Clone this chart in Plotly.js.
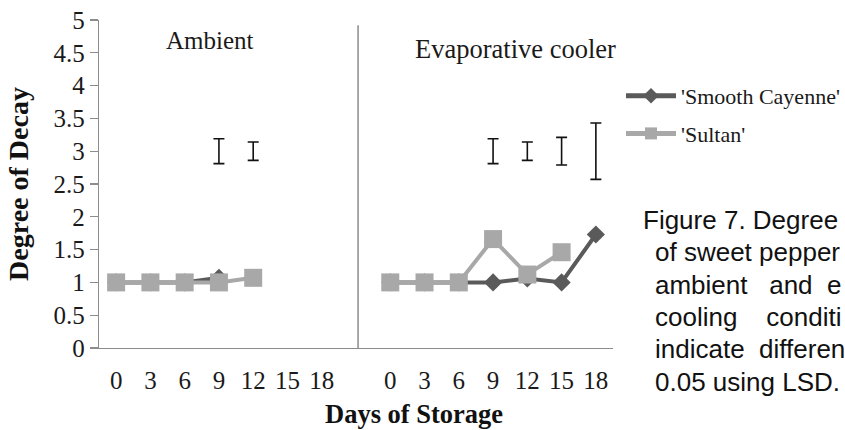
<!DOCTYPE html>
<html>
<head>
<meta charset="utf-8">
<script src="https://cdn.plot.ly/plotly-3.0.1.min.js"></script>
<style>
html, body { margin: 0; padding: 0; background: #ffffff; overflow: hidden; }
#chart { width: 845px; height: 430px; }
</style>
</head>
<body>
<div id="chart"></div>
<script>
// ---- data ----
const tickDays = [0, 3, 6, 9, 12, 15, 18];
const tickLabels = ['0', '3', '6', '9', '12', '15', '18'];

const seriesNames = ["'Smooth Cayenne'", "'Sultan'"];

// Ambient panel
const ambientCayenneDays = [0, 3, 6, 9];
const ambientCayenneDecay = [1, 1, 1, 1.07];
const ambientSultanDays = [0, 3, 6, 9, 12];
const ambientSultanDecay = [1, 1, 1, 1, 1.07];

// Evaporative cooler panel
const coolerCayenneDays = [0, 3, 6, 9, 12, 15, 18];
const coolerCayenneDecay = [1, 1, 1, 1, 1.06, 1, 1.73];
const coolerSultanDays = [0, 3, 6, 9, 12, 15];
const coolerSultanDecay = [1, 1, 1, 1.66, 1.12, 1.46];

// LSD bars (centre and half length)
const ambientLsdDays = [9, 12];
const ambientLsdCentre = [3, 3];
const ambientLsdHalf = [0.19, 0.14];
const coolerLsdDays = [9, 12, 15, 18];
const coolerLsdCentre = [3, 3, 3, 3];
const coolerLsdHalf = [0.19, 0.14, 0.21, 0.43];

const panelTitles = ['Ambient', 'Evaporative cooler'];
// caption as visible in the reference (it runs off the right edge there)
const captionLines = [
  'Figure\u00a07.\u00a0Degree',
  'of sweet pepper',
  'ambient\u00a0\u00a0 and\u00a0 e',
  'cooling\u00a0\u00a0\u00a0 conditi',
  'indicate\u00a0 differen',
  '0.05 using LSD.'
];

// ---- styles ----
const serif = 'Liberation Serif, Times New Roman, serif';
const sans = 'Liberation Sans, Arial, sans-serif';
const cayenneColor = '#5a5a5a';
const sultanColor = '#a8a8a8';
const axisColor = '#8c8c8c';
const textColor = '#1a1a1a';

function lineTrace(x, y, xa, name, color, symbol, size, show) {
  return {
    type: 'scatter', mode: 'lines+markers', x: x, y: y, xaxis: xa, yaxis: 'y',
    name: name, legendgroup: name, showlegend: show,
    line: { color: color, width: 4 },
    marker: { color: color, symbol: symbol, size: size },
    hoverinfo: 'skip'
  };
}
function lsdTrace(x, y, half, xa) {
  return {
    type: 'scatter', mode: 'markers', x: x, y: y, xaxis: xa, yaxis: 'y',
    showlegend: false, hoverinfo: 'skip',
    marker: { size: 1, color: 'rgba(0,0,0,0)' },
    error_y: { type: 'data', array: half, visible: true, color: '#111111', thickness: 1.6, width: 5.5 }
  };
}

const data = [
  lineTrace(ambientCayenneDays, ambientCayenneDecay, 'x', seriesNames[0], cayenneColor, 'diamond', 14, true),
  lineTrace(coolerCayenneDays, coolerCayenneDecay, 'x2', seriesNames[0], cayenneColor, 'diamond', 14, false),
  lineTrace(ambientSultanDays, ambientSultanDecay, 'x', seriesNames[1], sultanColor, 'square', 18, true),
  lineTrace(coolerSultanDays, coolerSultanDecay, 'x2', seriesNames[1], sultanColor, 'square', 18, false),
  lsdTrace(ambientLsdDays, ambientLsdCentre, ambientLsdHalf, 'x'),
  lsdTrace(coolerLsdDays, coolerLsdCentre, coolerLsdHalf, 'x2')
];

const xBase = {
  anchor: 'y', tickmode: 'array', tickvals: tickDays, ticktext: tickLabels,
  showgrid: false, zeroline: false, showline: true, linecolor: axisColor, linewidth: 1.3,
  ticks: 'outside', ticklen: 10, tickcolor: 'rgba(0,0,0,0)', automargin: false,
  tickfont: { family: serif, size: 25, color: textColor }, fixedrange: true
};

const annotations = [
  { text: panelTitles[0], xref: 'paper', yref: 'paper', x: 0.216, y: 0.936, xanchor: 'center', yanchor: 'middle',
    showarrow: false, font: { family: serif, size: 25, color: textColor } },
  { text: panelTitles[1], xref: 'paper', yref: 'paper', x: 0.811, y: 0.912, xanchor: 'center', yanchor: 'middle',
    showarrow: false, font: { family: serif, size: 26.5, color: textColor } },
  { text: 'Days of Storage', xref: 'paper', yref: 'paper', x: 0.613, y: -0.2, xanchor: 'center', yanchor: 'middle',
    showarrow: false, font: { family: serif, size: 26.5, color: '#111111', weight: 700 } }
];
captionLines.forEach(function (t, i) {
  annotations.push({
    text: t, xref: 'paper', yref: 'paper',
    x: i === 0 ? 1.0545 : 1.078,
    y: (348 - (220 + 32.3 * i)) / 328,
    xanchor: 'left', yanchor: 'middle', align: 'left', showarrow: false,
    font: { family: sans, size: 26, color: '#111111' }
  });
});

const layout = {
  width: 845, height: 430,
  margin: { l: 99, r: 232, t: 20, b: 82, pad: 0, autoexpand: false },
  paper_bgcolor: '#ffffff', plot_bgcolor: '#ffffff',
  showlegend: true,
  legend: {
    xref: 'container', yref: 'container',
    x: 621 / 845, y: 1 - 75 / 430, xanchor: 'left', yanchor: 'top',
    font: { family: serif, size: 22, color: textColor },
    traceorder: 'grouped', tracegroupgap: 6, itemwidth: 50, itemsizing: 'constant',
    bgcolor: 'rgba(0,0,0,0)', borderwidth: 0
  },
  xaxis: Object.assign({}, xBase, { domain: [0, 0.5], range: [-1.5, 21] }),
  xaxis2: Object.assign({}, xBase, { domain: [0.5, 1], range: [-3, 19.5] }),
  yaxis: {
    range: [0, 5], tick0: 0, dtick: 0.5, showgrid: false, zeroline: false,
    showline: true, linecolor: axisColor, linewidth: 1.3, automargin: false,
    ticks: 'outside', ticklen: 8, tickcolor: axisColor, tickwidth: 1.3,
    tickfont: { family: serif, size: 25, color: textColor },
    title: { text: 'Degree of Decay', standoff: 16, font: { family: serif, size: 28, color: '#111111', weight: 700 } },
    fixedrange: true
  },
  shapes: [
    { type: 'line', xref: 'paper', yref: 'y', x0: 0.504, x1: 0.504, y0: 0, y1: 4.92,
      line: { color: axisColor, width: 1.5 } }
  ],
  annotations: annotations
};

Plotly.newPlot('chart', data, layout, { displayModeBar: false, staticPlot: true });
</script>
</body>
</html>
